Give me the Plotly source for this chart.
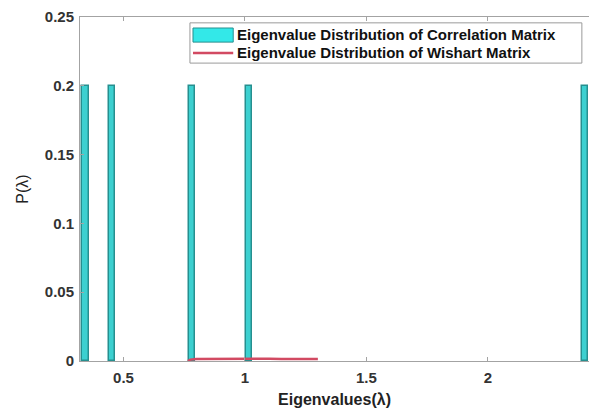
import plotly.graph_objects as go

# Eigenvalues of the correlation matrix and their histogram probabilities
eigenvalues = [0.344, 0.453, 0.782, 1.016, 2.40]
probabilities = [0.2, 0.2, 0.2, 0.2, 0.2]
bin_width = 0.026

# Marchenko-Pastur (Wishart) density sampled over its support
mp_lambda = [0.765, 0.775, 0.80, 0.85, 0.90, 0.95, 1.00, 1.05, 1.10, 1.15, 1.20, 1.25, 1.30]
mp_density = [0.0, 0.0010, 0.0015, 0.0016, 0.0016, 0.0016, 0.0016, 0.0016, 0.0016, 0.0015, 0.0015, 0.0015, 0.0015]

x_ticks = [0.5, 1, 1.5, 2]
x_tick_text = ["0.5", "1", "1.5", "2"]
y_ticks = [0, 0.05, 0.1, 0.15, 0.2, 0.25]
y_tick_text = ["0", "0.05", "0.1", "0.15", "0.2", "0.25"]

legend_labels = [
    "Eigenvalue Distribution of Correlation Matrix",
    "Eigenvalue Distribution of Wishart Matrix",
]

BAR_FILL = "#3cd0d0"
BAR_EDGE = "#268f8f"
LINE_RED = "#d24a62"
AXIS_GRAY = "#a3a3a3"
FONT = "Liberation Sans, Arial, sans-serif"

fig = go.Figure()
fig.add_trace(go.Bar(
    x=eigenvalues, y=probabilities, width=bin_width,
    marker=dict(color=BAR_FILL, line=dict(color=BAR_EDGE, width=1.5)),
    showlegend=False,
))
fig.add_trace(go.Scatter(
    x=mp_lambda, y=mp_density, mode="lines",
    line=dict(color=LINE_RED, width=2.5),
    showlegend=False,
))

# Legend box drawn in paper coordinates
shapes = [
    dict(type="rect", xref="paper", yref="paper", x0=0.216, x1=0.986, y0=0.866, y1=0.983,
         line=dict(color="#9a9a9a", width=1), fillcolor="white", layer="above"),
    dict(type="rect", xref="paper", yref="paper", x0=0.222, x1=0.301, y0=0.927, y1=0.968,
         line=dict(color=BAR_EDGE, width=1), fillcolor="#33e8e8", layer="above"),
    dict(type="line", xref="paper", yref="paper", x0=0.222, x1=0.301, y0=0.895, y1=0.895,
         line=dict(color=LINE_RED, width=2.5), layer="above"),
]
annotations = [
    dict(text=f"<b>{legend_labels[0]}</b>", xref="paper", yref="paper", x=0.304, y=0.948,
         xanchor="left", yanchor="middle", showarrow=False,
         font=dict(family=FONT, size=15, color="#111111")),
    dict(text=f"<b>{legend_labels[1]}</b>", xref="paper", yref="paper", x=0.304, y=0.896,
         xanchor="left", yanchor="middle", showarrow=False,
         font=dict(family=FONT, size=15, color="#111111")),
]

fig.update_layout(
    width=589, height=414,
    margin=dict(l=80, r=0, t=17, b=53),
    paper_bgcolor="white", plot_bgcolor="white",
    shapes=shapes, annotations=annotations,
    bargap=0,
    xaxis=dict(
        range=[0.321, 2.416], tickvals=x_ticks, ticktext=x_tick_text,
        showgrid=False, zeroline=False, showline=True, linecolor=AXIS_GRAY, linewidth=1,
        mirror="ticks", ticks="inside", ticklen=4, tickcolor=AXIS_GRAY,
        ticklabelstandoff=3,
        tickfont=dict(family=FONT, size=15, color="#333333"),
        title=dict(text="<b>Eigenvalues(λ)</b>", font=dict(family=FONT, size=16, color="#222222"), standoff=8),
    ),
    yaxis=dict(
        range=[0, 0.25], tickvals=y_ticks, ticktext=y_tick_text,
        showgrid=False, zeroline=False, showline=True, linecolor=AXIS_GRAY, linewidth=1,
        mirror=False, ticks="inside", ticklen=4, tickcolor=AXIS_GRAY,
        ticklabelstandoff=2,
        tickfont=dict(family=FONT, size=15, color="#333333"),
        title=dict(text="P(λ)", font=dict(family=FONT, size=16, color="#222222"), standoff=12),
    ),
    font=dict(family=FONT),
)
fig.update_xaxes(tickfont_weight="bold")
fig.update_yaxes(tickfont_weight="bold")

fig.write_html("out.html")
